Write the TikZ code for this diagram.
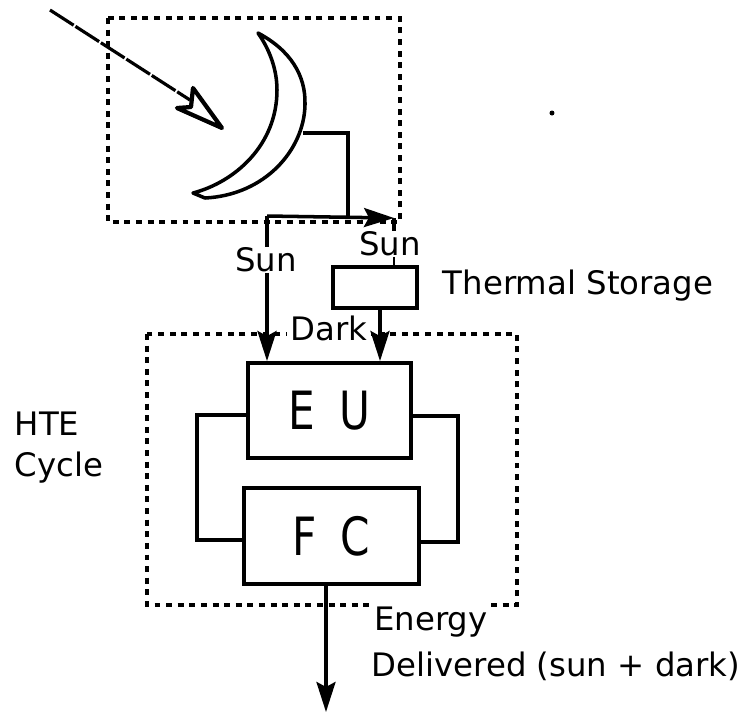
\documentclass[tikz,border=0pt]{standalone}
\usepackage{fontspec}
\setmainfont{DejaVu Sans}
\newfontfamily\tallfont[FakeStretch=.8]{DejaVu Sans}
\usetikzlibrary{arrows.meta}
\tikzset{
   outline/.style={line width=1pt,dash pattern=on 1.7pt off 1.6pt},
   wire/.style={line width=1pt},
   unit/.style={draw,line width=1.1pt,inner sep=0pt,font=\tallfont\fontsize{15}{18}\selectfont},
   flow/.style={wire,-{Stealth[inset=.05cm,length=.3cm,width=.19cm]}},
   caption/.style={font=\fontsize{9.2}{11}\selectfont,inner sep=0pt}
}
\begin{document}
\begin{tikzpicture}[x=.01cm,y=-.01cm]
   \useasboundingbox (0,0) rectangle (747,714);
   % dotted frames
   \draw[outline] (108,18) rectangle (400,222);
   \draw[outline] (147,334) rectangle (517,605);

   % collector
   \draw[line width=1pt,line join=round]
   (258,33) .. controls (290,50) and (306,75) .. (305,105)
   .. controls (304,150) and (265,195) .. (205,198) -- (193,193)
   .. controls (235,182) and (277,145) .. (277,90)
   .. controls (277,70) and (270,50) .. (258,33) -- cycle;

   % incoming ray
   \coordinate (rayin) at (50,10);
   \coordinate (raybend) at (190,100);
   \draw[line width=.9pt,dash pattern=on 8pt off .6pt] (rayin) -- (raybend);
   \draw[line width=1.2pt,line join=round] (222,128) -- (193,88) -- (191,107) -- (177,108) -- cycle;

   % units
   \node[unit,minimum width=1.63cm,minimum height=.95cm] (EU) at (329.5,410.5) {E\hspace{3pt} U\hspace{2pt}};
   \node[unit,minimum width=1.75cm,minimum height=.96cm] (FC) at (331.5,536) {F\hspace{3pt} C\hspace{3pt}};
   \node[draw,line width=1.1pt,minimum width=.84cm,minimum height=.41cm,inner sep=0pt] (TS) at (375,287.5) {};

   % labels
   \node[caption] (sunleft) at (266,260) {Sun};
   \node[caption] (sunright) at (390,244) {Sun};
   \node[caption] (store) at (578,286) {Thermal Storage};
   \node[caption,fill=white,inner sep=1pt] (dark) at (329,328) {Dark};
   \node[caption,anchor=west] (hte) at (14,424) {HTE};
   \node[caption,anchor=west] (cycle) at (14,468) {Cycle};
   \node[caption,anchor=west,fill=white,inner sep=1pt] (energy) at (370,622) {Energy};
   \node[caption,anchor=west] (delivered) at (371,666) {Delivered (sun + dark)};

   % pipes
   \coordinate (dishout) at (303,133);
   \coordinate (elbow) at (348,133);
   \coordinate (split) at (348,216);
   \coordinate (west) at (267,216);
   \coordinate (east) at (394,218);
   \draw[wire] (dishout) -- (elbow) -- (split);
   \draw[flow] (west) -- (east);
   \draw[wire] (west) -- (sunleft.north -| west);
   \draw[flow] (sunleft.south -| west) -- (EU.north -| west);
   \draw[wire] (east) -- (sunright.north -| east);
   \draw[line width=.6pt] (sunright.south -| east) -- (TS.north -| east);
   \draw[flow] (TS.south -| 380,0) -- (EU.north -| 380,0);

   % cycle loop
   \draw[wire] (EU.west |- 0,415) -- (197,415) -- (197,540) -- (FC.west |- 0,540);
   \draw[wire] (EU.east |- 0,416) -- (458,416) -- (458,542) -- (FC.east |- 0,542);
   \draw[flow] (FC.south -| 326,0) -- (326,712);

   \fill (552,113) circle (2.5);
\end{tikzpicture}
\end{document}
